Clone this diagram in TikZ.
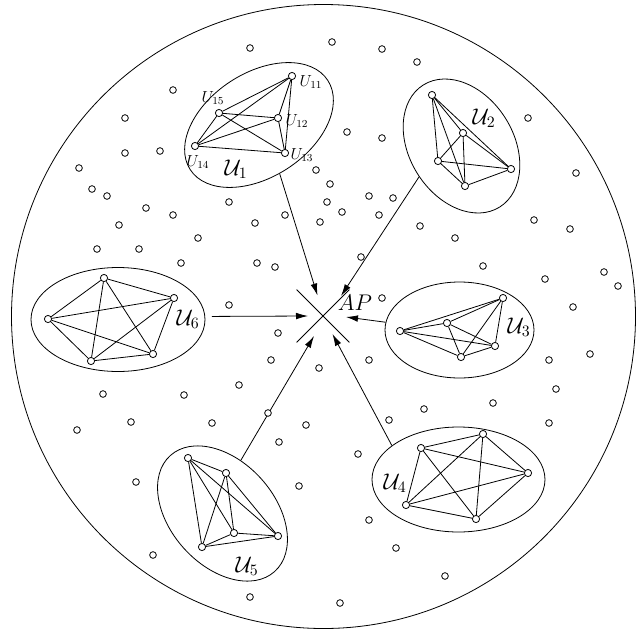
\RequirePackage{fix-cm}
\documentclass[tikz,border=0pt]{standalone}
\usetikzlibrary{shapes.geometric,shapes.misc,arrows.meta}
\begin{document}
\begin{tikzpicture}[x=0.75pt, y=-0.75pt, line width=0.6pt,
  dot/.style={draw, circle, fill=white, inner sep=0pt, minimum size=5pt},
  user/.style={draw, circle, fill=white, inner sep=0pt, minimum size=5.4pt},
  grp/.style={draw, ellipse, inner sep=0pt},
  lbl/.style={font=\fontsize{12}{14}\selectfont, inner sep=0pt},
  glbl/.style={font=\fontsize{17}{19}\selectfont, inner sep=0pt},
  arr/.style={-{Latex[length=9pt,width=5pt]}}]

\useasboundingbox (0,0) rectangle (644,633);
\node[draw, circle, inner sep=0pt, minimum size=468pt] (cell) at (323.5,316.5) {};

% groups
\node[grp, minimum width=123pt, minimum height=78pt, rotate=33]  (G1) at (259,125) {};
\node[grp, minimum width=108pt, minimum height=78pt, rotate=-58] (G2) at (461.5,146) {};
\node[grp, minimum width=111.75pt, minimum height=72pt]          (G3) at (459.5,330) {};
\node[grp, minimum width=129.75pt, minimum height=78.75pt]       (G4) at (458.5,479.5) {};
\node[grp, minimum width=117pt, minimum height=78pt, rotate=-48] (G5) at (222.5,513.5) {};
\node[grp, minimum width=130.5pt, minimum height=78pt]           (G6) at (118,319.5) {};

% access point
\node[draw, cross out, inner sep=0pt, minimum size=39pt] (ap) at (323,316) {};
\node[font=\fontsize{17}{19}\selectfont, inner sep=0pt] (aplbl) at (355,303) {$AP$};
\coordinate (t1) at (317.5,295.5);
\coordinate (t2) at (341,296);
\coordinate (t3) at (346,317);
\coordinate (t4) at (332.5,334);
\coordinate (t5) at (314,336);
\coordinate (t6) at (308,316);
\draw[arr] (G1.-100) -- (t1);
\draw[arr] (G2.-86) -- (t2);
\draw[arr] (G3.174) -- (t3);
\draw[arr] (G4.153) -- (t4);
\draw[arr] (G5.119) -- (t5);
\draw[arr, shorten <=5pt] (G6.2) -- (t6);

% users of each group
\foreach \n/\x/\y in {1/292/76, 2/278/118, 3/285/153, 4/195/146, 5/219/113}
  \node[user] (u1\n) at (\x,\y) {};
\foreach \n/\x/\y in {1/432/95, 2/463/133, 3/438/161, 4/511/169, 5/465/186}
  \node[user] (u2\n) at (\x,\y) {};
\foreach \n/\x/\y in {1/400/331, 2/447/323, 3/503/298, 4/495/346, 5/461/357}
  \node[user] (u3\n) at (\x,\y) {};
\foreach \n/\x/\y in {1/421/448, 2/483/434, 3/528/473, 4/476/519, 5/406/505}
  \node[user] (u4\n) at (\x,\y) {};
\foreach \n/\x/\y in {1/188/458, 2/226/473, 3/234/533, 4/278/536, 5/202/547}
  \node[user] (u5\n) at (\x,\y) {};
\foreach \n/\x/\y in {1/104/278, 2/174/298, 3/153/354, 4/91/361, 5/48/319}
  \node[user] (u6\n) at (\x,\y) {};
\foreach \g in {1,...,6}
  \foreach \i/\j in {1/2,1/3,1/4,1/5,2/3,2/4,2/5,3/4,3/5,4/5}
    \draw (u\g\i) -- (u\g\j);

% other users
\foreach \x/\y [count=\k] in {250/48, 173/90, 125/118, 125/153, 160/151, 79/168,
    316/170, 92/189, 107/196, 229/202, 146/208, 173/215, 285/215, 255/223,
    320/222, 119/225, 198/238, 97/249, 139/249, 181/263, 257/263, 275/267,
    229/305, 332/42, 382/49, 417/62, 528/118, 347/132, 382/138, 576/173,
    330/184, 327/202, 369/196, 393/198, 342/212, 379/215, 420/226, 455/238,
    534/220, 570/229, 361/257, 483/266, 545/279, 604/272, 618/286, 382/298,
    573/307, 278/333, 271/360, 319/368, 239/385, 103/394, 184/395, 131/422,
    212/423, 77/430, 268/413, 306/425, 279/442, 136/482, 299/486, 153/555,
    250/597, 369/360, 549/360, 590/354, 556/389, 493/403, 424/409, 389/420,
    549/423, 358/454, 369/520, 396/548, 445/576, 340/603}
  \node[dot] (d\k) at (\x,\y) {};

% labels
\node[lbl] (l11) at (311,82)  {$U_{11}$};
\node[lbl] (l12) at (297,121) {$U_{12}$};
\node[lbl] (l13) at (302,155) {$U_{13}$};
\node[lbl] (l14) at (198,162) {$U_{14}$};
\node[lbl] (l15) at (213,98)  {$U_{15}$};
\node[glbl] (g1) at (236,169) {$\mathcal{U}_1$};
\node[glbl] (g2) at (484,118) {$\mathcal{U}_2$};
\node[glbl] (g3) at (519,327) {$\mathcal{U}_3$};
\node[glbl] (g4) at (395,483) {$\mathcal{U}_4$};
\node[glbl] (g5) at (247,566) {$\mathcal{U}_5$};
\node[glbl] (g6) at (188,319) {$\mathcal{U}_6$};
\end{tikzpicture}
\end{document}
